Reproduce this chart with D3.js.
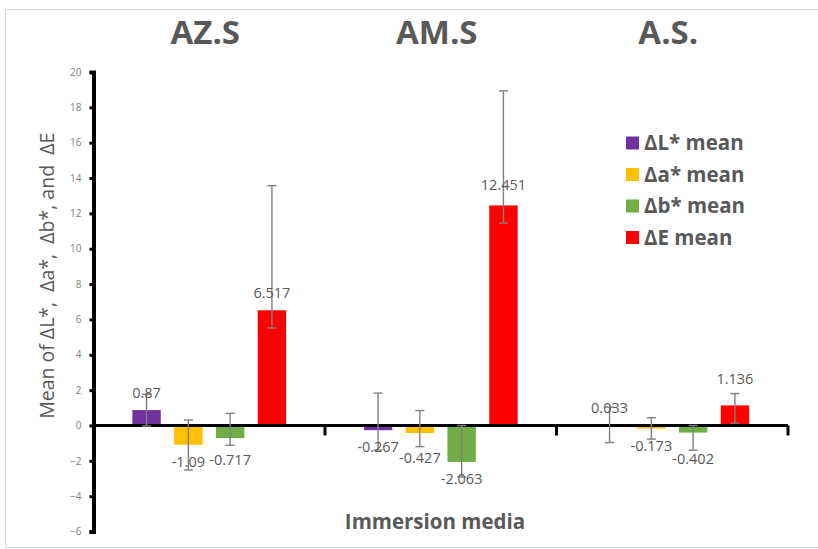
<!DOCTYPE html>
<html>
<head>
<meta charset="utf-8">
<script src="https://cdn.jsdelivr.net/npm/d3@7"></script>
<style>
  html, body { margin: 0; padding: 0; background: #ffffff; }
  svg { display: block; }
</style>
</head>
<body>
<svg id="chart" width="818" height="549"></svg>
<script>
// Immersion media groups and the four colour-difference measures
const categories = ["AZ.S", "AM.S", "A.S."];
const seriesNames = ["ΔL* mean", "Δa* mean", "Δb* mean", "ΔE mean"];
const seriesColors = ["#7030A0", "#FFC000", "#70AD47", "#FF0000"];

// Mean values per group (AZ.S, AM.S, A.S.)
const dLMean = [0.87, -0.267, 0.033];
const daMean = [-1.09, -0.427, -0.173];
const dbMean = [-0.717, -2.063, -0.402];
const dEMean = [6.517, 12.451, 1.136];

// Error bar extents above / below each mean
const dLPlus = [0.9, 2.1, 1.0],  dLMinus = [0.9, 1.12, 1.0];
const daPlus = [1.4, 1.27, 0.61], daMinus = [1.43, 0.77, 0.6];
const dbPlus = [1.4, 2.06, 0.4],  dbMinus = [0.4, 0.85, 1.0];
const dEPlus = [7.05, 6.48, 0.67], dEMinus = [1.0, 1.0, 1.0];

const yTicks = [-6, -4, -2, 0, 2, 4, 6, 8, 10, 12, 14, 16, 18, 20];

const yTitle = "Mean of ΔL*,  Δa*,  Δb*, and  ΔE";
const xTitle = "Immersion media";

// Extra label distance for a few crowded value labels (px)
const labelNudge = { "0|2": 5, "1|1": 8, "1|3": 3, "2|2": 9, "2|3": 9 };

const means = [dLMean, daMean, dbMean, dEMean];
const plus = [dLPlus, daPlus, dbPlus, dEPlus];
const minus = [dLMinus, daMinus, dbMinus, dEMinus];

const rows = [];
categories.forEach((c, ci) => {
  seriesNames.forEach((s, si) => {
    rows.push({
      ci, si, cat: c, series: s,
      value: means[si][ci],
      hi: means[si][ci] + plus[si][ci],
      lo: means[si][ci] - minus[si][ci]
    });
  });
});

const svg = d3.select("#chart");
const textGrey = "#595959";
const font = "'Open Sans', 'DejaVu Sans', sans-serif";

// Light frame around the chart area
svg.append("rect")
  .attr("x", 5.5).attr("y", 9.5)
  .attr("width", 830).attr("height", 538)
  .attr("fill", "#ffffff")
  .attr("stroke", "#d9d9d9").attr("stroke-width", 1);

const plotLeft = 93.5, plotRight = 788;
const y = d3.scaleLinear().domain([-6, 20]).range([531.5, 72]);
const x0 = d3.scaleBand().domain(categories).range([plotLeft, plotRight]).padding(0);
const x1 = d3.scaleBand().domain(seriesNames).range([0, x0.bandwidth()])
  .paddingInner(0.32).paddingOuter(0.93);
const color = d3.scaleOrdinal().domain(seriesNames).range(seriesColors);

// Bars
svg.append("g").selectAll("rect")
  .data(rows)
  .join("rect")
  .attr("x", d => x0(d.cat) + x1(d.series))
  .attr("width", x1.bandwidth())
  .attr("y", d => y(Math.max(0, d.value)))
  .attr("height", d => Math.abs(y(d.value) - y(0)))
  .attr("fill", d => color(d.series));

// Y axis
const yAxis = d3.axisLeft(y).tickValues(yTicks).tickSize(4).tickPadding(8);
const gy = svg.append("g").attr("transform", `translate(${plotLeft},0)`).call(yAxis);
gy.select(".domain").attr("stroke", "#000").attr("stroke-width", 4);
gy.selectAll(".tick line").attr("stroke", "#000").attr("stroke-width", 3);
gy.selectAll(".tick text")
  .attr("fill", "#7f7f7f")
  .style("font-family", font)
  .style("font-size", "10px");

// X axis along the zero line, with separators between groups
const xLine = svg.append("g");
xLine.append("line")
  .attr("x1", plotLeft).attr("x2", plotRight)
  .attr("y1", y(0)).attr("y2", y(0))
  .attr("stroke", "#000").attr("stroke-width", 3);
const bounds = categories.slice(1).map(c => x0(c)).concat([plotRight]);
xLine.selectAll("line.sep")
  .data(bounds)
  .join("line")
  .attr("class", "sep")
  .attr("x1", d => d).attr("x2", d => d)
  .attr("y1", y(0)).attr("y2", y(0) + 10)
  .attr("stroke", "#000").attr("stroke-width", 3);

// Error bars
const cx = d => x0(d.cat) + x1(d.series) + x1.bandwidth() / 2;
const eb = svg.append("g").attr("stroke", "#808080").attr("stroke-width", 1.4);
eb.selectAll("line.v")
  .data(rows).join("line").attr("class", "v")
  .attr("x1", cx).attr("x2", cx)
  .attr("y1", d => y(d.hi)).attr("y2", d => y(d.lo));
eb.selectAll("line.hiCap")
  .data(rows).join("line").attr("class", "hiCap")
  .attr("x1", d => cx(d) - 4.5).attr("x2", d => cx(d) + 4.5)
  .attr("y1", d => y(d.hi)).attr("y2", d => y(d.hi));
eb.selectAll("line.loCap")
  .data(rows).join("line").attr("class", "loCap")
  .attr("x1", d => cx(d) - 4.5).attr("x2", d => cx(d) + 4.5)
  .attr("y1", d => y(d.lo)).attr("y2", d => y(d.lo));

// Value labels
svg.append("g").selectAll("text")
  .data(rows)
  .join("text")
  .attr("x", cx)
  .attr("y", d => {
    const off = 17 + (labelNudge[d.ci + "|" + d.si] || 0);
    return d.value >= 0 ? y(d.value) - off : y(d.value) + off;
  })
  .attr("dy", "0.35em")
  .attr("text-anchor", "middle")
  .attr("fill", textGrey)
  .style("font-family", font)
  .style("font-size", "14.5px")
  .text(d => d.value);

// Group titles across the top
svg.append("g").selectAll("text")
  .data(categories)
  .join("text")
  .attr("x", d => x0(d) + x0.bandwidth() / 2 - 4)
  .attr("y", 32)
  .attr("dy", "0.35em")
  .attr("text-anchor", "middle")
  .attr("fill", textGrey)
  .style("font-family", font)
  .style("font-weight", "bold")
  .style("font-size", "33px")
  .text(d => d);

// Axis titles
svg.append("text")
  .attr("transform", `translate(47,${(y(20) + y(-6)) / 2 - 26}) rotate(-90)`)
  .attr("text-anchor", "middle")
  .attr("dy", "0.35em")
  .attr("xml:space", "preserve")
  .attr("fill", textGrey)
  .style("font-family", font)
  .style("font-size", "19.5px")
  .style("white-space", "pre")
  .text(yTitle);

svg.append("text")
  .attr("x", 435).attr("y", 522)
  .attr("dy", "0.35em")
  .attr("text-anchor", "middle")
  .attr("fill", textGrey)
  .style("font-family", font)
  .style("font-weight", "bold")
  .style("font-size", "20.5px")
  .text(xTitle);

// Legend
const legend = svg.append("g").attr("transform", "translate(626,143)");
const li = legend.selectAll("g").data(seriesNames).join("g")
  .attr("transform", (d, i) => `translate(0,${i * 31.5})`);
li.append("rect")
  .attr("x", 0).attr("y", -6.5).attr("width", 13).attr("height", 13)
  .attr("fill", d => color(d));
li.append("text")
  .attr("x", 18).attr("y", 0).attr("dy", "0.35em")
  .attr("fill", textGrey)
  .style("font-family", font)
  .style("font-weight", "bold")
  .style("font-size", "20.5px")
  .text(d => d);
</script>
</body>
</html>
